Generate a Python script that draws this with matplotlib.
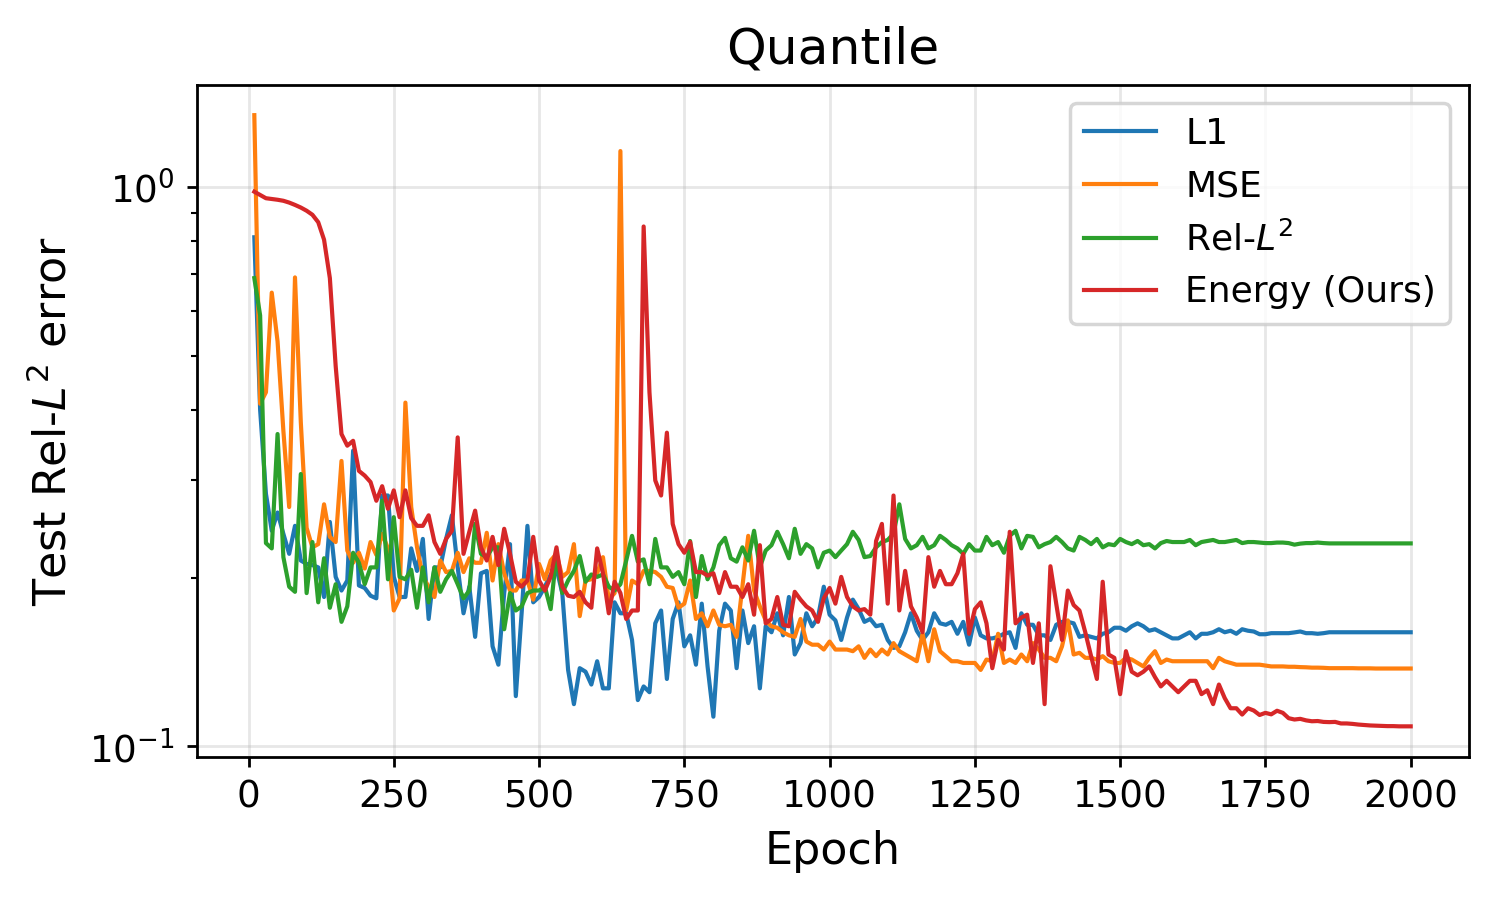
import matplotlib
matplotlib.use("Agg")
import matplotlib.pyplot as plt
import numpy as np

# test error logged every 10 epochs, 10..2000
epochs = np.arange(10, 2001, 10)

l1 = [
    0.814, 0.400, 0.283, 0.243, 0.262, 0.240, 0.221, 0.248, 0.215, 0.212,
    0.211, 0.209, 0.185, 0.252, 0.201, 0.190, 0.198, 0.338, 0.194, 0.192,
    0.186, 0.184, 0.281, 0.281, 0.201, 0.185, 0.185, 0.226, 0.206, 0.235,
    0.169, 0.209, 0.209, 0.235, 0.259, 0.209, 0.173, 0.193, 0.157, 0.204,
    0.206, 0.151, 0.140, 0.188, 0.230, 0.123, 0.173, 0.248, 0.181, 0.185,
    0.193, 0.203, 0.208, 0.188, 0.137, 0.119, 0.138, 0.136, 0.129, 0.142,
    0.127, 0.127, 0.181, 0.173, 0.173, 0.155, 0.121, 0.128, 0.125, 0.166,
    0.175, 0.132, 0.169, 0.181, 0.151, 0.158, 0.140, 0.180, 0.139, 0.113,
    0.161, 0.180, 0.175, 0.138, 0.175, 0.153, 0.164, 0.127, 0.164, 0.160,
    0.173, 0.158, 0.185, 0.146, 0.153, 0.173, 0.164, 0.170, 0.193, 0.172,
    0.168, 0.155, 0.170, 0.183, 0.176, 0.167, 0.169, 0.164, 0.165, 0.155,
    0.150, 0.151, 0.160, 0.173, 0.161, 0.155, 0.160, 0.173, 0.166, 0.165,
    0.167, 0.159, 0.167, 0.152, 0.170, 0.158, 0.156, 0.156, 0.157, 0.159,
    0.160, 0.150, 0.173, 0.165, 0.165, 0.158, 0.158, 0.155, 0.165, 0.167,
    0.167, 0.166, 0.157, 0.158, 0.157, 0.156, 0.159, 0.160, 0.163, 0.163,
    0.161, 0.164, 0.166, 0.164, 0.161, 0.162, 0.160, 0.158, 0.156, 0.156,
    0.158, 0.160, 0.156, 0.159, 0.159, 0.160, 0.162, 0.160, 0.161, 0.159,
    0.162, 0.161, 0.1605, 0.1587, 0.1587, 0.1594, 0.1594, 0.1594, 0.1594, 0.1599,
    0.1605, 0.1594, 0.1594, 0.1590, 0.1594, 0.1600, 0.1600, 0.1600, 0.1600, 0.1600,
    0.1600, 0.1600, 0.1600, 0.1600, 0.1600, 0.1600, 0.1600, 0.1600, 0.1600, 0.1600,
]

mse = [
    1.346, 0.410, 0.430, 0.648, 0.530, 0.367, 0.268, 0.690, 0.380, 0.246,
    0.227, 0.230, 0.271, 0.237, 0.232, 0.324, 0.224, 0.213, 0.222, 0.208,
    0.232, 0.220, 0.240, 0.226, 0.175, 0.184, 0.412, 0.268, 0.227, 0.201,
    0.193, 0.185, 0.215, 0.205, 0.206, 0.222, 0.205, 0.217, 0.213, 0.213,
    0.241, 0.198, 0.230, 0.204, 0.190, 0.190, 0.198, 0.198, 0.183, 0.212,
    0.199, 0.215, 0.221, 0.201, 0.205, 0.230, 0.171, 0.198, 0.199, 0.204,
    0.218, 0.183, 0.188, 1.161, 0.175, 0.198, 0.195, 0.206, 0.206, 0.205,
    0.201, 0.193, 0.192, 0.177, 0.180, 0.198, 0.169, 0.173, 0.164, 0.175,
    0.165, 0.164, 0.165, 0.157, 0.193, 0.238, 0.190, 0.178, 0.168, 0.164,
    0.163, 0.160, 0.158, 0.157, 0.169, 0.154, 0.152, 0.152, 0.149, 0.154,
    0.149, 0.149, 0.149, 0.148, 0.151, 0.144, 0.149, 0.145, 0.149, 0.146,
    0.153, 0.148, 0.146, 0.144, 0.142, 0.159, 0.142, 0.162, 0.148, 0.145,
    0.142, 0.142, 0.141, 0.141, 0.141, 0.137, 0.143, 0.142, 0.159, 0.141,
    0.143, 0.141, 0.146, 0.142, 0.153, 0.149, 0.144, 0.144, 0.142, 0.151,
    0.168, 0.146, 0.147, 0.144, 0.144, 0.143, 0.145, 0.142, 0.141, 0.141,
    0.144, 0.143, 0.141, 0.139, 0.144, 0.148, 0.141, 0.143, 0.142, 0.142,
    0.142, 0.142, 0.142, 0.142, 0.142, 0.138, 0.144, 0.142, 0.141, 0.140,
    0.140, 0.140, 0.140, 0.140, 0.1395, 0.139, 0.139, 0.139, 0.1388, 0.1388,
    0.1386, 0.1385, 0.1383, 0.1383, 0.1382, 0.1380, 0.1380, 0.1380, 0.1380, 0.1380,
    0.1379, 0.1379, 0.1379, 0.1378, 0.1378, 0.1378, 0.1378, 0.1378, 0.1378, 0.1378,
]

rel_l2 = [
    0.688, 0.590, 0.231, 0.226, 0.362, 0.218, 0.193, 0.189, 0.307, 0.188,
    0.232, 0.181, 0.217, 0.177, 0.195, 0.167, 0.178, 0.222, 0.213, 0.195,
    0.209, 0.209, 0.275, 0.199, 0.257, 0.201, 0.199, 0.207, 0.177, 0.209,
    0.181, 0.209, 0.189, 0.199, 0.206, 0.195, 0.184, 0.190, 0.250, 0.221,
    0.218, 0.227, 0.227, 0.162, 0.188, 0.175, 0.178, 0.188, 0.190, 0.190,
    0.193, 0.176, 0.221, 0.188, 0.198, 0.206, 0.219, 0.197, 0.203, 0.201,
    0.203, 0.193, 0.190, 0.195, 0.215, 0.238, 0.214, 0.216, 0.195, 0.235,
    0.209, 0.209, 0.201, 0.205, 0.195, 0.233, 0.185, 0.219, 0.199, 0.209,
    0.229, 0.236, 0.217, 0.214, 0.227, 0.215, 0.243, 0.209, 0.224, 0.229,
    0.242, 0.230, 0.217, 0.245, 0.221, 0.230, 0.226, 0.209, 0.222, 0.224,
    0.218, 0.224, 0.230, 0.242, 0.234, 0.218, 0.219, 0.227, 0.232, 0.234,
    0.240, 0.271, 0.235, 0.226, 0.229, 0.237, 0.226, 0.229, 0.238, 0.234,
    0.229, 0.226, 0.221, 0.230, 0.224, 0.224, 0.237, 0.229, 0.232, 0.222,
    0.238, 0.243, 0.226, 0.238, 0.237, 0.227, 0.230, 0.232, 0.237, 0.232,
    0.226, 0.224, 0.237, 0.234, 0.230, 0.235, 0.227, 0.230, 0.229, 0.235,
    0.232, 0.230, 0.233, 0.229, 0.230, 0.226, 0.231, 0.233, 0.232, 0.232,
    0.232, 0.234, 0.229, 0.232, 0.233, 0.234, 0.232, 0.232, 0.233, 0.234,
    0.231, 0.232, 0.232, 0.2315, 0.231, 0.231, 0.2315, 0.2315, 0.231, 0.2295,
    0.2305, 0.231, 0.231, 0.2315, 0.231, 0.2307, 0.2307, 0.2307, 0.2307, 0.2307,
    0.2307, 0.2307, 0.2307, 0.2307, 0.2307, 0.2307, 0.2307, 0.2307, 0.2307, 0.2307,
]

energy = [
    0.982, 0.969, 0.956, 0.953, 0.950, 0.946, 0.939, 0.930, 0.920, 0.908,
    0.893, 0.866, 0.806, 0.688, 0.479, 0.362, 0.345, 0.352, 0.311, 0.305,
    0.297, 0.275, 0.292, 0.266, 0.287, 0.257, 0.287, 0.256, 0.248, 0.248,
    0.259, 0.232, 0.221, 0.235, 0.243, 0.357, 0.221, 0.242, 0.264, 0.227,
    0.215, 0.237, 0.211, 0.245, 0.221, 0.197, 0.193, 0.198, 0.237, 0.198,
    0.190, 0.201, 0.227, 0.193, 0.186, 0.185, 0.189, 0.181, 0.177, 0.226,
    0.204, 0.173, 0.197, 0.188, 0.169, 0.175, 0.175, 0.851, 0.430, 0.299,
    0.281, 0.364, 0.250, 0.230, 0.222, 0.232, 0.205, 0.205, 0.202, 0.204,
    0.188, 0.205, 0.193, 0.193, 0.185, 0.195, 0.172, 0.229, 0.166, 0.169,
    0.185, 0.165, 0.164, 0.189, 0.183, 0.178, 0.175, 0.167, 0.184, 0.192,
    0.180, 0.201, 0.185, 0.178, 0.175, 0.176, 0.172, 0.233, 0.250, 0.180,
    0.281, 0.175, 0.206, 0.178, 0.170, 0.160, 0.218, 0.193, 0.206, 0.195,
    0.195, 0.204, 0.221, 0.159, 0.176, 0.181, 0.166, 0.138, 0.155, 0.149,
    0.242, 0.166, 0.170, 0.172, 0.141, 0.166, 0.119, 0.210, 0.180, 0.155,
    0.190, 0.179, 0.175, 0.160, 0.145, 0.132, 0.197, 0.146, 0.144, 0.124,
    0.148, 0.136, 0.134, 0.136, 0.139, 0.133, 0.128, 0.131, 0.128, 0.125,
    0.128, 0.131, 0.131, 0.124, 0.126, 0.119, 0.129, 0.122, 0.117, 0.117,
    0.114, 0.117, 0.1159, 0.1138, 0.1148, 0.1141, 0.1158, 0.1148, 0.1123, 0.1117,
    0.1120, 0.1113, 0.1109, 0.1110, 0.1106, 0.1105, 0.1106, 0.1099, 0.1099, 0.1097,
    0.1094, 0.1092, 0.1090, 0.1089, 0.1088, 0.1087, 0.1087, 0.1086, 0.1086, 0.1086,
]

fig, ax = plt.subplots(figsize=(6, 3.6), dpi=250)
ax.plot(epochs, l1, color="C0", lw=1.2, label="L1")
ax.plot(epochs, mse, color="C1", lw=1.2, label="MSE")
ax.plot(epochs, rel_l2, color="C2", lw=1.2, label="Rel-$L^2$")
ax.plot(epochs, energy, color="C3", lw=1.2, label="Energy (Ours)")

ax.set_yscale("log")
ax.set_title("Quantile", fontsize=14.5)
ax.set_xlabel("Epoch", fontsize=12.8)
ax.set_ylabel("Test Rel-$L^2$ error", fontsize=12.8)
ax.tick_params(labelsize=10.7, length=2.8)
ax.tick_params(which="minor", length=1.6)
ax.grid(True, alpha=0.3)
ax.legend(fontsize=10.4, loc="upper right")

fig.subplots_adjust(left=0.131, right=0.979, bottom=0.159, top=0.906)
fig.savefig("out.png", dpi=250)
